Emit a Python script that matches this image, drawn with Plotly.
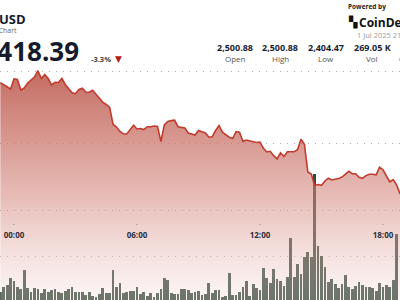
import pandas as pd
import plotly.graph_objects as go

# ---- data (10-minute candles) ----
start_time = "2025-06-30 23:20"
prices = [
    2491.87, 2490.49, 2489.10, 2487.50, 2494.44, 2494.10, 2486.81, 2488.19, 2491.67, 2494.10,
    2495.83, 2500.20, 2494.79, 2497.57, 2494.79, 2490.28, 2492.15, 2492.00, 2494.79, 2490.63,
    2487.50, 2484.93, 2484.24, 2487.15, 2487.99, 2485.42, 2485.28, 2486.60, 2483.82, 2480.83,
    2478.26, 2476.74, 2474.65, 2462.85, 2461.11, 2457.99, 2456.39, 2456.25, 2459.03, 2462.29,
    2459.72, 2460.07, 2459.37, 2461.32, 2461.25, 2461.81, 2461.46, 2451.04, 2462.50, 2464.93,
    2465.63, 2465.83, 2461.32, 2461.11, 2460.42, 2456.94, 2456.04, 2455.56, 2458.75, 2457.64,
    2456.94, 2454.17, 2454.31, 2458.68, 2462.15, 2457.50, 2455.90, 2454.03, 2453.13, 2457.85,
    2457.43, 2451.11, 2452.08, 2451.60, 2451.04, 2450.35, 2450.69, 2446.32, 2443.75, 2444.24,
    2441.18, 2438.96, 2443.19, 2440.56, 2443.96, 2443.85, 2443.90, 2445.49, 2452.64, 2449.10,
    2429.86, 2428.47, 2420.49, 2421.18, 2420.60, 2423.61, 2425.56, 2424.31, 2424.65, 2425.28,
    2426.39, 2428.47, 2430.35, 2428.75, 2428.68, 2426.25, 2425.49, 2427.36, 2428.33, 2428.26,
    2427.92, 2433.19, 2431.39, 2427.08, 2423.06, 2424.58, 2420.83, 2414.58,
]
volumes_k = [
    1.29, 1.97, 2.33, 3.46, 2.99, 1.97, 1.75, 4.65, 1.81, 1.29,
    1.86, 1.75, 1.13, 1.66, 1.29, 1.55, 1.66, 1.29, 1.04, 1.40,
    1.75, 2.06, 1.24, 1.24, 1.29, 0.78, 1.29, 0.67, 0.42, 0.93,
    1.81, 1.13, 1.04, 4.65, 1.97, 2.59, 1.13, 1.29, 1.40, 1.40,
    1.97, 0.93, 1.24, 0.62, 1.13, 0.51, 1.13, 1.66, 3.46, 3.10,
    1.04, 0.88, 0.88, 1.66, 1.75, 1.55, 1.13, 1.29, 1.40, 0.78,
    0.93, 2.59, 1.04, 1.55, 1.55, 0.51, 0.62, 4.23, 0.78, 0.78,
    1.19, 1.97, 2.90, 0.62, 2.48, 1.81, 1.55, 4.91, 3.36, 2.59,
    4.76, 3.21, 2.95, 2.17, 3.61, 9.56, 3.52, 5.58, 3.98, 6.62,
    7.49, 6.71, 19.53, 8.37, 6.82, 5.07, 2.84, 3.21, 2.48, 1.91,
    2.48, 3.88, 1.97, 1.66, 2.17, 2.84, 2.33, 1.97, 1.97, 1.91,
    1.44, 2.68, 2.06, 2.28, 1.97, 3.10, 10.23,
]
tick_times = ["2025-07-01 00:00", "2025-07-01 06:00", "2025-07-01 12:00", "2025-07-01 18:00"]
tick_labels = ["00:00", "06:00", "12:00", "18:00"]
grid_prices = [2500, 2450, 2402.8, 2371.5]

stat_values = ["2,500.88", "2,500.88", "2,404.47", "269.05 K", "-82.49"]
stat_labels = ["Open", "High", "Low", "Vol", "Change"]

times = pd.date_range(start_time, periods=len(prices), freq="10min")
vol_times = times[: len(volumes_k)]

W, H = 400, 300
fig = go.Figure()

# volume bars (drawn underneath the price fill)
fig.add_trace(go.Bar(
    x=vol_times, y=volumes_k, yaxis="y",
    width=0.82 * 600000,
    marker=dict(color="#33493c", line=dict(width=0)),
    hoverinfo="skip", showlegend=False,
))

# price area
fig.add_trace(go.Scatter(
    x=times, y=prices, yaxis="y2", mode="lines",
    line=dict(color="#c23b2e", width=1.6),
    fill="tozeroy",
    fillgradient=dict(
        type="vertical", start=2341, stop=2500,
        colorscale=[
            [0.0, "rgba(242,220,217,0.30)"],
            [0.436, "rgba(213,137,128,0.55)"],
            [0.699, "rgba(200,112,101,0.72)"],
            [1.0, "rgba(188,88,76,0.88)"],
        ],
    ),
    hoverinfo="skip", showlegend=False,
))

fig.update_layout(
    width=W, height=H,
    margin=dict(l=0, r=0, t=0, b=0),
    paper_bgcolor="white", plot_bgcolor="white",
    bargap=0,
    xaxis=dict(
        type="date",
        range=["2025-06-30 23:19:01", "2025-07-01 18:49:45"],
        anchor="free", position=(H - 222.5) / H,
        showgrid=False, zeroline=False, showline=False,
        tickvals=tick_times, ticktext=tick_labels,
        ticks="outside", ticklen=1, tickwidth=2, tickcolor="#b5b5b5",
        ticklabelstandoff=4,
        tickfont=dict(family="Open Sans", size=8, color="#2a2f3d", weight="bold"),
    ),
    yaxis=dict(
        range=[0, 46.5], visible=False, fixedrange=True,
    ),
    yaxis2=dict(
        overlaying="y", range=[2340.97, 2549.31],
        showticklabels=False, zeroline=False, showline=False,
        tickvals=grid_prices, showgrid=True,
        gridcolor="rgba(150,150,150,0.75)", gridwidth=1, griddash="1px,6px",
    ),
)

def px(x):
    return x / W

def py(y):
    return 1 - y / H

ann = []
ann.append(dict(text="ETH-USD", x=px(28.5), y=py(19), xanchor="right", yanchor="middle",
                font=dict(family="Open Sans", size=13, color="#141b2d", weight="bold")))
ann.append(dict(text="ETH Price Chart", x=px(18.5), y=py(30.5), xanchor="right", yanchor="middle",
                font=dict(family="Open Sans", size=7, color="#666666")))
ann.append(dict(text="2,418.39", x=px(80.5), y=py(51.5), xanchor="right", yanchor="middle",
                font=dict(family="Open Sans", size=26, color="#141b2d", weight="bold")))
ann.append(dict(text="-3.3%", x=px(89), y=py(59), xanchor="left", yanchor="middle",
                font=dict(family="Open Sans", size=7.5, color="#444444", weight="bold")))
ann.append(dict(text="▼", x=px(112.5), y=py(59), xanchor="left", yanchor="middle",
                font=dict(family="DejaVu Sans", size=9, color="#b3201b")))
ann.append(dict(text="Powered by", x=px(346), y=py(7), xanchor="left", yanchor="middle",
                font=dict(family="Open Sans", size=6.5, color="#222222", weight="bold")))
ann.append(dict(text="▚", x=px(345.5), y=py(22), xanchor="left", yanchor="middle",
                font=dict(family="DejaVu Sans", size=11, color="#111111")))
ann.append(dict(text="CoinDesk", x=px(357), y=py(22), xanchor="left", yanchor="middle",
                font=dict(family="Open Sans", size=12, color="#111111", weight="bold")))
ann.append(dict(text="1 Jul 2025 21:00 UTC", x=px(355), y=py(35), xanchor="left", yanchor="middle",
                font=dict(family="Open Sans", size=7.5, color="#9a9a9a")))

centers = [235, 280, 326, 372, 413]
for cx, v, lab in zip(centers, stat_values, stat_labels):
    ann.append(dict(text=v, x=px(cx), y=py(47.5), xanchor="center", yanchor="middle",
                    font=dict(family="Open Sans", size=9, color="#1a1f36", weight="bold")))
    ann.append(dict(text=lab, x=px(cx), y=py(58.5), xanchor="center", yanchor="middle",
                    font=dict(family="Open Sans", size=8, color="#555555")))

for a in ann:
    a.update(xref="paper", yref="paper", showarrow=False)
fig.update_layout(annotations=ann)

fig.write_html("out.html", config={"displayModeBar": False})
